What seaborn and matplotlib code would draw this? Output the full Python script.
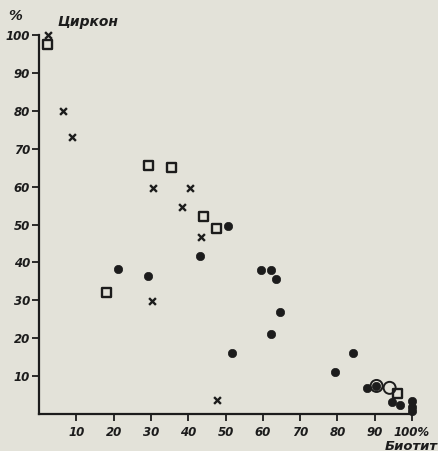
import seaborn as sns
import matplotlib.pyplot as plt
import pandas as pd

# values (biotite % vs zircon %)
cross_x = [2.4, 6.5, 8.8, 30.5, 40.5, 38.4, 43.5, 30.4, 47.7]
cross_y = [100, 80, 73, 59.5, 59.5, 54.5, 46.7, 29.8, 3.7]
square_x = [2.4, 29.3, 35.6, 44.2, 47.6, 18.2, 96.0]
square_y = [97.5, 65.5, 65.0, 52.0, 49.0, 32.0, 5.5]
circle_x = [50.6, 43.2, 21.2, 29.3, 59.5, 62.2, 63.5, 64.6, 62.2, 51.8, 84.2, 79.4,
            88.0, 90.4, 94.6, 96.8, 100, 100, 100]
circle_y = [49.6, 41.7, 38.3, 36.4, 38.0, 38.0, 35.6, 26.9, 21.1, 16.1, 16.1, 11.1,
            6.9, 7.4, 3.2, 2.4, 3.4, 1.8, 0.8]
ring_x = [90.5, 94.0]
ring_y = [7.4, 6.9]
ticks = [10, 20, 30, 40, 50, 60, 70, 80, 90, 100]
xticklabels = ['10', '20', '30', '40', '50', '60', '70', '80', '90', '100%']
yticklabels = ['10', '20', '30', '40', '50', '60', '70', '80', '90', '100']

bg = '#e3e2d9'
ink = '#1c1c1c'
sns.set_style('ticks')
plt.rcParams['font.family'] = ['DejaVu Sans']

fig = plt.figure(figsize=(4.39, 4.51), dpi=100, facecolor=bg)
ax = fig.add_axes([39 / 439, 37 / 451, 373 / 439, 379 / 451], facecolor=bg)

crosses = pd.DataFrame({'x': cross_x, 'y': cross_y})
squares = pd.DataFrame({'x': square_x, 'y': square_y})
circles = pd.DataFrame({'x': circle_x, 'y': circle_y})
rings = pd.DataFrame({'x': ring_x, 'y': ring_y})

sns.scatterplot(data=circles, x='x', y='y', ax=ax, marker='o', s=36, color=ink,
                edgecolor=ink, linewidth=0.5, clip_on=False, zorder=3)
sns.scatterplot(data=rings, x='x', y='y', ax=ax, marker='o', s=75, facecolor='none',
                edgecolor=ink, linewidth=1.4, clip_on=False, zorder=4)
sns.scatterplot(data=squares, x='x', y='y', ax=ax, marker='s', s=42, facecolor='none',
                edgecolor=ink, linewidth=1.7, clip_on=False, zorder=4)
sns.scatterplot(data=crosses, x='x', y='y', ax=ax, marker='x', s=24, color=ink,
                linewidth=1.7, clip_on=False, zorder=4)

ax.set_xlim(0, 100)
ax.set_ylim(0, 100)
ax.set_xticks(ticks)
ax.set_yticks(ticks)
lab = dict(fontsize=8.5, style='italic', weight='bold', color=ink)
big = dict(lab, fontsize=10)
ax.set_xticklabels(xticklabels, **lab)
ax.set_yticklabels(yticklabels, **lab)
ax.tick_params(length=5, width=1.3, color=ink)
ax.tick_params(axis='x', pad=4)
ax.tick_params(axis='y', pad=1.5)
ax.set_xlabel('')
ax.set_ylabel('')
sns.despine(ax=ax)
for s in ['left', 'bottom']:
    ax.spines[s].set_linewidth(1.6)
    ax.spines[s].set_color(ink)

fig.text(15 / 439, 1 - 16 / 451, '%', ha='center', va='center', **big)
fig.text(57 / 439, 1 - 22 / 451, 'Циркон', ha='left', va='center', **big)
fig.text(438 / 439, 1 - 446 / 451, 'Биотит', ha='right', va='center',
         **dict(big, fontsize=9.5))

fig.savefig('out.png', dpi=100, facecolor=bg)
